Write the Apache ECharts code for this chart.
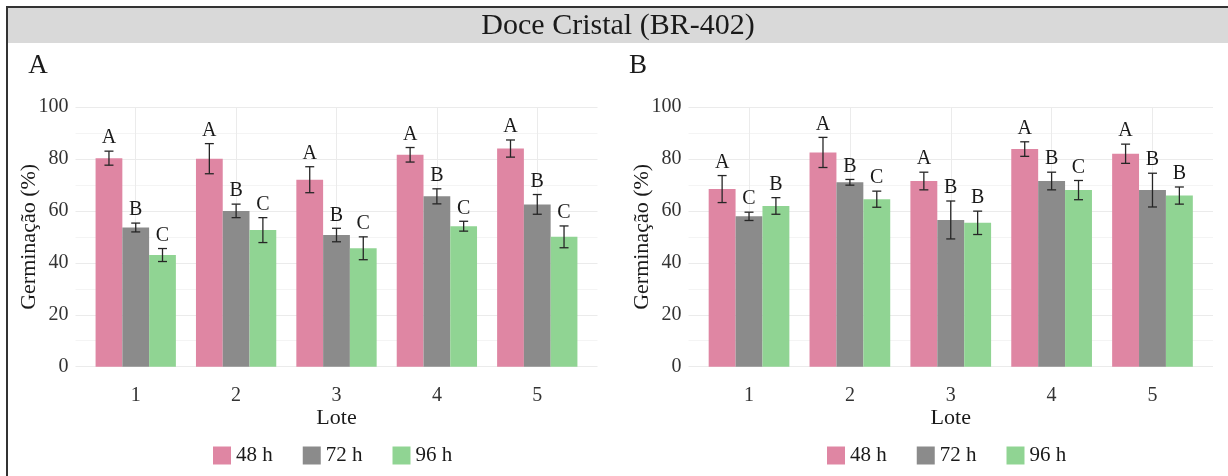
<!DOCTYPE html>
<html>
<head>
<meta charset="utf-8">
<script src="https://cdn.jsdelivr.net/npm/echarts@6/dist/echarts.min.js"></script>
<style>
  html, body { margin: 0; padding: 0; background: #ffffff; }
  #chart { width: 1228px; height: 476px; }
</style>
</head>
<body>
<div id="chart"></div>
<script>
// Germinação (%) por lote e tempo de avaliação — Doce Cristal (BR-402)
const lotes = [1, 2, 3, 4, 5];
const tempos = ['48 h', '72 h', '96 h'];
const yTicks = [0, 20, 40, 60, 80, 100];

// Painel A: médias, desvios e letras
const germA_48 = [80.3, 80.1, 72.0, 81.6, 84.0];
const dpA_48   = [2.7, 5.8, 5.0, 2.8, 3.3];
const germA_72 = [53.6, 60.0, 50.7, 65.6, 62.5];
const dpA_72   = [1.7, 2.6, 2.6, 2.9, 3.8];
const germA_96 = [43.0, 52.6, 45.6, 54.1, 50.0];
const dpA_96   = [2.5, 4.8, 4.4, 1.9, 4.2];
const letrasA_48 = ['A', 'A', 'A', 'A', 'A'];
const letrasA_72 = ['B', 'B', 'B', 'B', 'B'];
const letrasA_96 = ['C', 'C', 'C', 'C', 'C'];

// Painel B: médias, desvios e letras
const germB_48 = [68.4, 82.5, 71.5, 83.8, 82.0];
const dpB_48   = [5.2, 5.8, 3.4, 2.8, 3.7];
const germB_72 = [57.9, 71.0, 56.5, 71.5, 68.0];
const dpB_72   = [1.6, 1.1, 7.3, 3.4, 6.5];
const germB_96 = [61.9, 64.5, 55.4, 68.0, 65.9];
const dpB_96   = [3.2, 3.1, 4.5, 3.7, 3.3];
const letrasB_48 = ['A', 'A', 'A', 'A', 'A'];
const letrasB_72 = ['C', 'B', 'B', 'B', 'B'];
const letrasB_96 = ['B', 'C', 'B', 'C', 'B'];

const cores = ['#df86a3', '#8b8b8b', '#90d493'];
const FONT = '"Liberation Serif", "Times New Roman", serif';
const X_MIN = 0.4, X_MAX = 5.6;
const GROUP_W = 0.8;               // largura do grupo em unidades do eixo
const BAR_U = GROUP_W / tempos.length;

const paineis = [
  { left: 75.5, width: 522, medias: [germA_48, germA_72, germA_96], dps: [dpA_48, dpA_72, dpA_96], letras: [letrasA_48, letrasA_72, letrasA_96], legendLeft: 208, tag: 'A', tagX: 38 },
  { left: 688.5, width: 524.5, medias: [germB_48, germB_72, germB_96], dps: [dpB_48, dpB_72, dpB_96], letras: [letrasB_48, letrasB_72, letrasB_96], legendLeft: 822, tag: 'B', tagX: 638 }
];
const GRID_TOP = 107, GRID_H = 259.7;

const grids = [], xAxes = [], yAxes = [], series = [], legends = [];

paineis.forEach((p, pi) => {
  grids.push({ left: p.left, top: GRID_TOP, width: p.width, height: GRID_H, containLabel: false });
  xAxes.push({
    type: 'value', gridIndex: pi, min: X_MIN, max: X_MAX,
    name: 'Lote', nameLocation: 'middle', nameGap: 41, nameMoveOverlap: false,
    nameTextStyle: { fontFamily: FONT, fontSize: 22, color: '#1a1a1a' },
    axisLine: { show: false },
    axisTick: { show: false, customValues: lotes },
    axisLabel: { customValues: lotes, margin: 19, fontFamily: FONT, fontSize: 20, color: '#333' },
    splitLine: { show: true, lineStyle: { color: '#ebebeb', width: 1 } }
  });
  yAxes.push({
    type: 'value', gridIndex: pi, min: yTicks[0], max: yTicks[yTicks.length - 1], interval: 20,
    name: 'Germinação (%)', nameLocation: 'middle', nameGap: 35, nameRotate: 90, nameMoveOverlap: false,
    nameTextStyle: { fontFamily: FONT, fontSize: 22, color: '#1a1a1a' },
    axisLine: { show: false },
    axisTick: { show: false },
    axisLabel: { margin: 7, fontFamily: FONT, fontSize: 20, color: '#333' },
    splitLine: { show: true, lineStyle: { color: '#ebebeb', width: 1 } },
    minorTick: { show: false, splitNumber: 2 },
    minorSplitLine: { show: true, lineStyle: { color: '#f4f4f4', width: 1 } }
  });

  const barPx = p.width / (X_MAX - X_MIN) * BAR_U;

  tempos.forEach((t, k) => {
    series.push({
      type: 'bar', name: t, xAxisIndex: pi, yAxisIndex: pi,
      data: lotes.map((l, i) => [l, p.medias[k][i]]),
      barWidth: barPx, barGap: '0%',
      itemStyle: { color: cores[k] },
      emphasis: { disabled: true },
      z: 2
    });
  });

  tempos.forEach((t, k) => {
    const letras = p.letras[k];
    series.push({
      type: 'custom', name: t + ' dp', xAxisIndex: pi, yAxisIndex: pi,
      data: lotes.map((l, i) => [l, p.medias[k][i], p.dps[k][i]]),
      z: 5, silent: true,
      renderItem: (params, api) => {
        const x = api.value(0), m = api.value(1), s = api.value(2);
        const w = api.size([BAR_U, 0])[0];
        const cx = api.coord([x, m])[0] + (k - 1) * w;
        const yTop = api.coord([x, m + s])[1];
        const yBot = api.coord([x, m - s])[1];
        const cap = 4.5;
        const st = { stroke: '#262626', lineWidth: 1.3 };
        return {
          type: 'group',
          children: [
            { type: 'line', shape: { x1: cx, y1: yTop, x2: cx, y2: yBot }, style: st },
            { type: 'line', shape: { x1: cx - cap, y1: yTop, x2: cx + cap, y2: yTop }, style: st },
            { type: 'line', shape: { x1: cx - cap, y1: yBot, x2: cx + cap, y2: yBot }, style: st },
            { type: 'text', x: cx, y: yTop - 3,
              style: { text: letras[params.dataIndex], fontFamily: FONT, fontSize: 20, fill: '#1a1a1a',
                       align: 'center', verticalAlign: 'bottom' } }
          ]
        };
      }
    });
  });

  legends.push({
    data: tempos, left: p.legendLeft, top: 440, orient: 'horizontal',
    icon: 'rect', itemWidth: 18, itemHeight: 18, itemGap: 30,
    textStyle: { fontFamily: FONT, fontSize: 21, color: '#1a1a1a' },
    selectedMode: false
  });
});

const graphic = [
  { type: 'rect', shape: { x: 7, y: 7, width: 1240, height: 36 }, style: { fill: '#d9d9d9' }, z: 0 },
  { type: 'rect', shape: { x: 7, y: 7, width: 1240, height: 500 }, style: { fill: 'none', stroke: '#333', lineWidth: 2 }, z: 10 },
  { type: 'text', x: 618, y: 26, style: { text: 'Doce Cristal (BR-402)', fontFamily: FONT, fontSize: 30, fill: '#1a1a1a', align: 'center', verticalAlign: 'middle' }, z: 11 }
];
paineis.forEach(p => {
  graphic.push({ type: 'text', x: p.tagX, y: 66, style: { text: p.tag, fontFamily: FONT, fontSize: 27, fill: '#1a1a1a', align: 'center', verticalAlign: 'middle' }, z: 11 });
});

const chart = echarts.init(document.getElementById('chart'), null, { renderer: 'canvas' });
chart.setOption({
  animation: false,
  backgroundColor: '#ffffff',
  grid: grids,
  xAxis: xAxes,
  yAxis: yAxes,
  legend: legends,
  series: series,
  graphic: graphic
});
</script>
</body>
</html>
